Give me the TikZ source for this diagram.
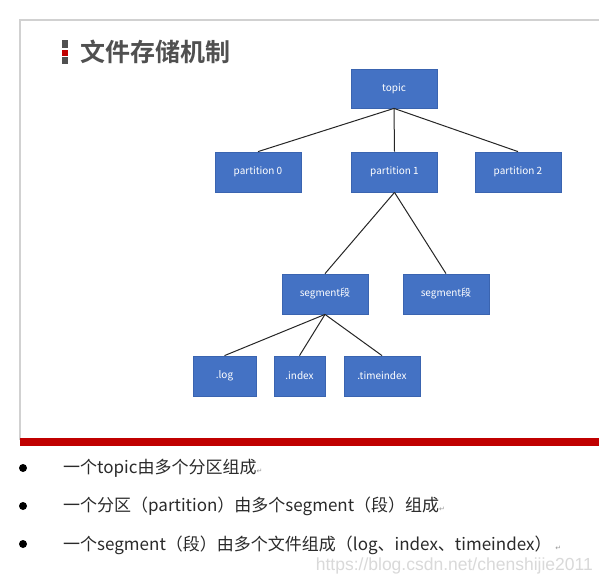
\documentclass[tikz,border=0pt]{standalone}
\usepackage{fontspec}
\setmainfont{Noto Sans CJK SC}
\newfontfamily\cjk{Noto Sans CJK SC}
\newfontfamily\cjkbold{Noto Sans CJK SC Bold}
\newfontfamily\symfont{DejaVu Sans}
\newfontfamily\wmfont{Liberation Sans}
\definecolor{boxblue}{HTML}{4472C4}
\definecolor{boxedge}{HTML}{3A64B0}
\definecolor{slidered}{HTML}{C00000}
\definecolor{titlegray}{HTML}{505050}
\definecolor{textgray}{HTML}{2A2A2A}
\newcommand{\retmark}{{\symfont\color{black!40}\fontsize{7}{8}\selectfont ↵}}
\begin{document}
\begin{tikzpicture}[x=1pt,y=-1pt,
  blk/.style={rectangle,fill=boxblue,draw=boxedge,line width=0.8pt,text=white,
    font=\cjk\fontsize{10}{12}\selectfont,inner sep=0pt,anchor=center},
  link/.style={draw=black!85,line width=1pt},
  bul/.style={anchor=west,font=\cjk\fontsize{17}{20}\selectfont,text=textgray,inner sep=0pt},
  dot/.style={circle,fill=black,inner sep=0pt,minimum size=8pt}]
\useasboundingbox (0,0) rectangle (599,582);
\fill[white] (0,0) rectangle (599,582);
% slide frame
\draw[black!18,line width=1.2pt] (599,20) -- (20,20) -- (20,440);
\fill[slidered] (20,437.5) rectangle (599,446);
% title icon
\fill[titlegray] (62,40) rectangle (68,48);
\fill[slidered] (62,49.5) rectangle (68,55.5);
\fill[titlegray] (62,57) rectangle (68,64);
\node[anchor=west,inner sep=0pt,text=titlegray,font=\cjkbold\fontsize{25}{28}\selectfont] (title) at (80,52) {文件存储机制};
% boxes
\node[blk,minimum width=86pt,minimum height=39pt] (topic) at (394,88.5) {topic};
\node[blk,minimum width=86pt,minimum height=40pt] (p0) at (258,172) {partition 0};
\node[blk,minimum width=86pt,minimum height=40pt] (p1) at (394.5,172) {partition 1};
\node[blk,minimum width=86pt,minimum height=40pt] (p2) at (518,172) {partition 2};
\node[blk,minimum width=86pt,minimum height=40pt] (s1) at (325,294) {segment段};
\node[blk,minimum width=86pt,minimum height=40pt] (s2) at (446,294) {segment段};
\node[blk,minimum width=63pt,minimum height=40pt] (log) at (224.5,376) {.log};
\node[blk,minimum width=51pt,minimum height=40pt] (idx) at (299.5,376) {.index};
\node[blk,minimum width=76pt,minimum height=40pt] (tidx) at (382,376) {.timeindex};
% connectors
\draw[link] (topic.south) -- (p0.north);
\draw[link] (topic.south) -- (p1.north);
\draw[link] (topic.south) -- (p2.north);
\draw[link] (p1.south) -- (s1.north);
\draw[link] (p1.south) -- (s2.north);
\draw[link] (s1.south) -- (log.north);
\draw[link] (s1.south) -- (idx.north);
\draw[link] (s1.south) -- (tidx.north);
% bullets
\node[dot] (d1) at (23,468) {};
\node[dot] (d2) at (23,506) {};
\node[dot] (d3) at (23,544) {};
\node[bul] (t1) at (63,468) {一个topic由多个分区组成\retmark};
\node[bul] (t2) at (63,506.5) {一个分区（partition）由多个segment（段）组成\retmark};
\node[bul] (t3) at (63,545) {一个segment（段）由多个文件组成（log、index、timeindex）\ \retmark};
\node[anchor=east,inner sep=0pt,text=black!15,font=\wmfont\fontsize{17.5}{20}\selectfont] (wm) at (593,566) {https://blog.csdn.net/chenshijie2011};
\end{tikzpicture}
\end{document}
